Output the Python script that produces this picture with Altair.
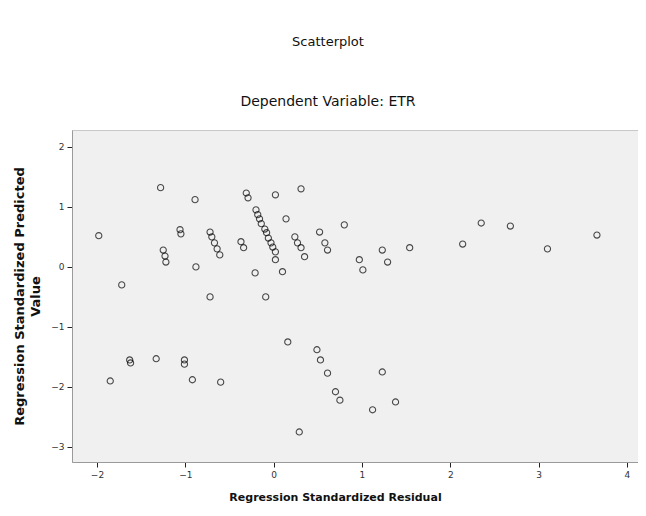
import altair as alt
import pandas as pd

# Regression standardized residual (x) and predicted value (y)
resid = [
    -1.98, -1.72, -1.28, -1.25, -1.23, -1.22, -0.89, -1.06, -1.05, -0.88,
    -0.72, -0.72, -0.70, -0.67, -0.64, -0.61, -0.37, -0.34, -0.21, -0.09,
    -0.31, -0.29, 0.02, 0.31,
    -0.20, -0.18, -0.16, -0.14, -0.10, -0.08, -0.06, -0.03, -0.01, 0.02,
    0.14, 0.02, 0.10, 0.24, 0.27, 0.31, 0.35, 0.52, 0.58, 0.61,
    0.80, 0.97, 1.01, 1.23, 1.29, 1.54, 2.14, 2.35, 2.68, 3.10, 3.66,
    -1.85, -1.63, -1.62, -1.33, -1.01, -1.01, -0.92, -0.60,
    0.16, 0.49, 0.53, 0.61, 0.70, 0.75, 1.23, 1.38, 1.12, 0.29,
]
pred = [
    0.52, -0.30, 1.32, 0.28, 0.18, 0.08, 1.12, 0.62, 0.55, 0.00,
    -0.50, 0.58, 0.50, 0.40, 0.30, 0.20, 0.42, 0.32, -0.10, -0.50,
    1.23, 1.15, 1.20, 1.30,
    0.95, 0.87, 0.80, 0.72, 0.63, 0.57, 0.48, 0.40, 0.33, 0.25,
    0.80, 0.12, -0.08, 0.50, 0.40, 0.32, 0.17, 0.58, 0.40, 0.28,
    0.70, 0.12, -0.05, 0.28, 0.08, 0.32, 0.38, 0.73, 0.68, 0.30, 0.53,
    -1.90, -1.55, -1.60, -1.53, -1.55, -1.62, -1.88, -1.92,
    -1.25, -1.38, -1.55, -1.77, -2.08, -2.22, -1.75, -2.25, -2.38, -2.75,
]
x_ticks = [-2, -1, 0, 1, 2, 3, 4]
y_ticks = [2, 1, 0, -1, -2, -3]

df = pd.DataFrame({"resid": resid, "pred": pred})

FONT = "DejaVu Sans"

chart = (
    alt.Chart(df)
    .mark_point(shape="circle", filled=False, color="black", size=38, strokeWidth=1.1)
    .encode(
        x=alt.X(
            "resid:Q",
            scale=alt.Scale(domain=[-2.283, 4.125], nice=False, zero=False),
            axis=alt.Axis(
                values=x_ticks,
                title="Regression Standardized Residual",
                titleFontWeight="bold",
                titleFontSize=11,
                titlePadding=12,
                titleFont=FONT,
                titleColor="#111111",
                titleX=263,
                grid=False,
                format="d",
            ),
        ),
        y=alt.Y(
            "pred:Q",
            scale=alt.Scale(domain=[-3.25, 2.28], nice=False, zero=False),
            axis=alt.Axis(
                values=y_ticks,
                title=["Regression Standardized Predicted", "Value"],
                titleFontWeight="bold",
                titleFontSize=13,
                titleFont=FONT,
                titleColor="#111111",
                titleLineHeight=16,
                titlePadding=8,
                grid=False,
                format="d",
            ),
        ),
    )
    .properties(
        width=566,
        height=332,
        autosize=alt.AutoSizeParams(type="none"),
        padding={"left": 64, "top": 122, "right": 0, "bottom": 46},
        title=alt.TitleParams(
            text="Scatterplot",
            subtitle="Dependent Variable: ETR",
            font=FONT,
            fontSize=13,
            fontWeight="normal",
            color="#111111",
            subtitleFont=FONT,
            subtitleFontSize=14,
            subtitleColor="#111111",
            subtitlePadding=46,
            anchor="middle",
            frame="group",
            dx=-27,
            offset=21,
        ),
    )
    .configure_view(fill="#f0f0f0", stroke="#c8c8c8", strokeWidth=1)
    .configure_axis(
        domainColor="#9a9a9a",
        tickColor="#222222",
        tickSize=5,
        labelColor="#333333",
        labelFont=FONT,
        labelFontSize=9,
        labelPadding=3,
    )
)

chart.save("out.html", embed_options={"renderer": "svg", "actions": False})
